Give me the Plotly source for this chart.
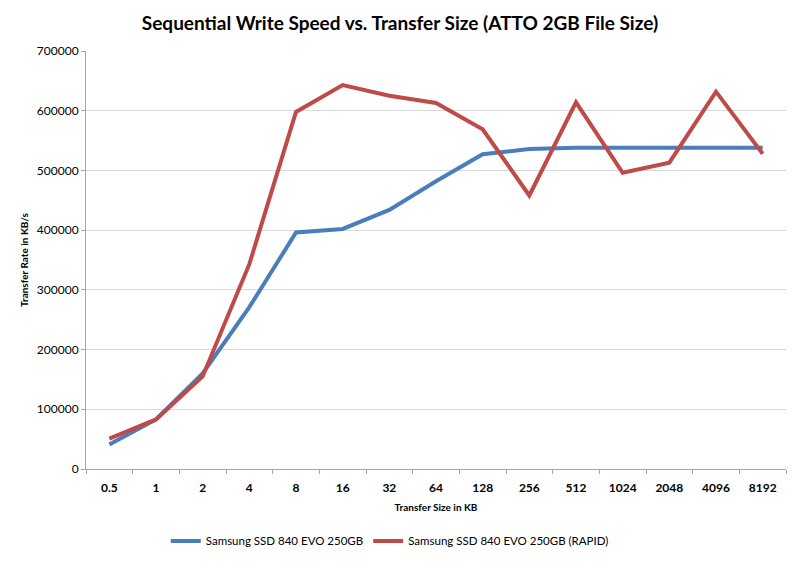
import plotly.graph_objects as go

categories = ["0.5", "1", "2", "4", "8", "16", "32", "64", "128", "256", "512", "1024", "2048", "4096", "8192"]
evo = [41000, 83000, 160000, 271000, 396000, 402000, 434000, 482000, 527000, 536000, 538000, 538000, 537000, 537000, 538000]
rapid = [51000, 83000, 155000, 343000, 598000, 643000, 625000, 613000, 569000, 458000, 614000, 496000, 513000, 632000, 528000]
y_ticks = [0, 100000, 200000, 300000, 400000, 500000, 600000, 700000]

FONT = "Lato, Carlito, Liberation Sans, Arial, sans-serif"

fig = go.Figure()
fig.add_trace(go.Scatter(x=categories, y=evo, mode="lines", name="Samsung SSD 840 EVO 250GB",
                         line=dict(color="#4A7EBB", width=4)))
fig.add_trace(go.Scatter(x=categories, y=rapid, mode="lines", name="Samsung SSD 840 EVO 250GB (RAPID)",
                         line=dict(color="#BE4B48", width=4)))

fig.update_layout(
    width=800, height=561,
    paper_bgcolor="white", plot_bgcolor="white",
    margin=dict(l=86, r=14, t=51, b=92, autoexpand=False),
    font=dict(family=FONT, color="black"),
    title=dict(text="<b>Sequential Write Speed vs. Transfer Size (ATTO 2GB File Size)</b>",
               x=0.5, xanchor="center", y=0.958, yanchor="middle",
               font=dict(size=19, family=FONT)),
    showlegend=True,
    legend=dict(orientation="h", x=0.434, xanchor="center", y=-0.172, yanchor="middle",
                font=dict(size=11.5, family=FONT), itemwidth=30, traceorder="normal"),
)
fig.update_xaxes(
    type="category", categoryorder="array", categoryarray=categories,
    range=[-0.5, len(categories) - 0.5], automargin=False,
    showline=True, linecolor="#A6A6A6", linewidth=1,
    ticks="outside", tickson="boundaries", ticklen=4, tickcolor="#A6A6A6",
    ticklabelstandoff=8,
    showgrid=False,
    tickfont=dict(size=12, family=FONT),
    title=dict(text="<b>Transfer Size in KB</b>", font=dict(size=10, family=FONT), standoff=9),
)
fig.update_yaxes(
    range=[0, 700000], tickvals=y_ticks, tickformat="d", automargin=False,
    showline=True, linecolor="#A6A6A6", linewidth=1,
    ticks="outside", ticklen=4, tickcolor="#A6A6A6",
    showgrid=True, gridcolor="#D9D9D9", gridwidth=1,
    zeroline=False,
    tickfont=dict(size=12, family=FONT),
    title=dict(text="<b>Transfer Rate in KB/s</b>", font=dict(size=10, family=FONT), standoff=6),
)
fig.update_xaxes(tickprefix="<b>", ticksuffix="</b>")
fig.update_yaxes(tickprefix="<b>", ticksuffix="</b>")

fig.write_html("out.html", config={"displayModeBar": False},
               post_script="document.body.style.margin='0';")
